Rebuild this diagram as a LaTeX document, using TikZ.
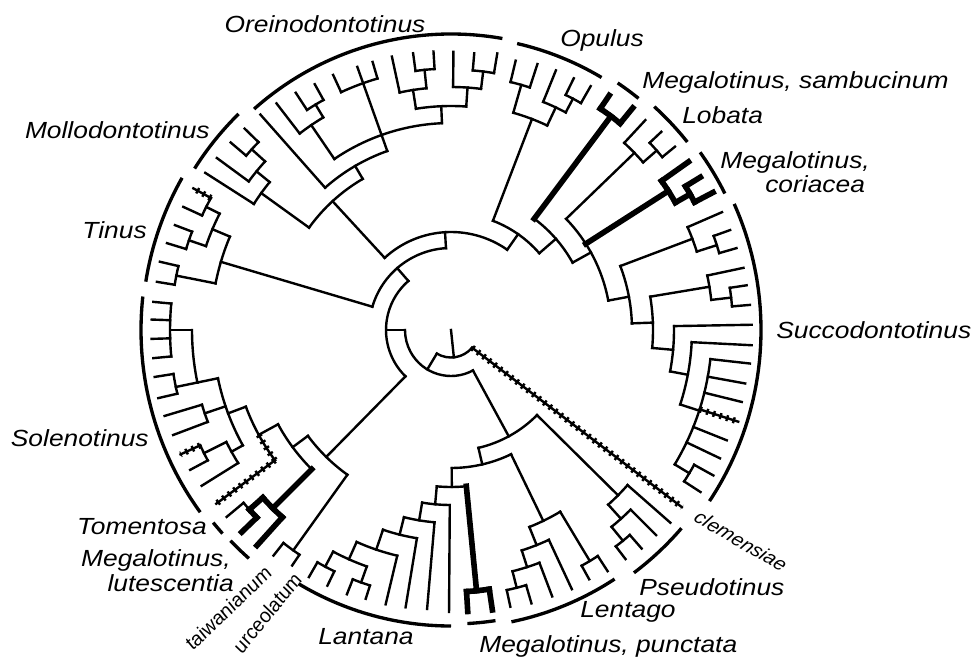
\documentclass[tikz,border=0pt]{standalone}
\usepackage{fontspec}
\setmainfont{Liberation Sans}
\newcommand\AR[4][]{\draw[#1] (-#3:#2) arc[start angle=-#3,end angle=-#4,radius=#2];}
\newcommand\RD[4][]{\draw[#1] (-#2:#3) -- (-#2:#4);}
\tikzset{
 thk/.style={line width=4.2pt},
 grp/.style={line width=2.5pt, line cap=butt},
 hatched/.style={postaction={draw, line width=4.6pt, dash pattern=on 1.8pt off 3.4pt, line cap=butt}},
 lab/.style={font=\fontsize{17.5}{20}\selectfont\itshape, inner sep=0pt, xscale=1.13},
 slab/.style={font=\fontsize{14}{16}\selectfont\itshape, inner sep=0pt, xscale=1.12},
}
\begin{document}
\begin{tikzpicture}[x=0.75pt,y=-0.75pt]
\useasboundingbox (0,0) rectangle (974,660);
\begin{scope}[shift={(451,330)}, y=0.75pt, line width=1.8pt, line cap=rect]
% root
\RD{84}{0}{27.5}
\AR{27.5}{40}{121}
\draw[hatched] (-40:27.5) -- (-37.5:291);
\RD{121}{27.5}{46}
\AR{46}{61.5}{180}
\RD{180}{46}{65}
\AR{65}{134.5}{229}
% Z clade
\RD{134.5}{65}{178}
\AR{178}{125.6}{143.5}
\RD{125.6}{178}{271}
\AR{271}{124}{128.2}
\RD{124}{271}{284}
\RD{128.2}{271}{287}
\RD{143.5}{178}{197}
\AR{197}{135}{151.4}
% Tomentosa / lutescentia
\RD[thk]{135}{197}{252}
\AR[thk]{252}{132}{138.3}
\RD[thk]{132}{252}{290}
\RD[thk]{138.3}{252}{270}
\AR[thk]{270}{136}{138.3}
\AR{270}{138.3}{140.2}
\RD[thk]{136}{270}{291}
\RD{140.2}{270}{292}
% Solenotinus
\RD{151.4}{197}{219}
\AR{219}{151.4}{159.5}
\AR[hatched]{219}{143.5}{151.4}
\RD[hatched]{143.5}{219}{292}
\RD{159.5}{219}{238}
\AR{238}{151}{168.3}
\RD{168.3}{238}{259}
\AR{259}{168.3}{180}
\RD{180}{259}{281}
\AR{281}{174.6}{185.4}
\RD{185.4}{281}{299}
\RD{182}{281}{299.5}
\RD{178.3}{281}{299.5}
\RD{174.6}{281}{299}
\RD{168.3}{259}{281}
\AR{281}{166.9}{171}
\RD{171}{281}{300}
\RD{166.9}{281}{300.5}
\RD{161.3}{238}{260}
\AR{260}{159.3}{163.3}
\RD{163.3}{260}{299}
\RD{159.3}{260}{297}
\RD{151}{238}{251}
\AR{251}{148}{153.5}
\RD{153.5}{251}{276}
\AR{276}{151.8}{155.3}
\RD[hatched]{155.3}{276}{297.7}
\RD{151.8}{276}{296}
\RD{148}{251}{294}
% B
\RD{229}{65}{82}
\AR{82}{196.5}{266.5}
% Tinus
\RD{196.5}{82}{240}
\AR{240}{191.2}{202.9}
\RD{191.2}{240}{280}
\AR{280}{189.3}{193.2}
\RD{193.2}{280}{299}
\RD{189.3}{280}{298}
\RD{202.9}{240}{259}
\AR{259}{198.9}{206.7}
\RD{198.9}{259}{277}
\AR{277}{197}{200.8}
\RD{200.8}{277}{295.3}
\RD{197}{277}{297}
\RD{206.7}{259}{274}
\AR{274}{204.7}{208.8}
\RD{204.7}{274}{294.7}
\RD[hatched]{208.8}{274}{294}
% D
\RD{266.5}{82}{98}
\AR{98}{227.4}{305}
\RD{227.4}{98}{175}
\AR{175}{215.8}{239.7}
% Mollodontotinus
\RD{215.8}{175}{234}
\AR{234}{212.6}{219.2}
\RD{212.6}{234}{291.7}
\RD{219.2}{234}{251}
\AR{251}{216.3}{222.2}
\RD{216.3}{251}{290.5}
\RD{222.2}{251}{269}
\AR{269}{220.4}{224.3}
\RD{220.4}{269}{289.3}
\RD{224.3}{269}{288.3}
% Oreinodontotinus
\RD{239.7}{175}{190}
\AR{190}{228.5}{250.4}
\RD{228.5}{190}{287.6}
\RD{250.4}{190}{207}
\AR{207}{235.7}{267.5}
\RD{235.7}{207}{248}
\AR{248}{232.4}{239}
\RD{232.4}{248}{286}
\RD{239}{248}{263}
\AR{263}{236.8}{241}
\RD{236.8}{263}{283.5}
\RD{241}{263}{281}
\RD{250.4}{207}{279.3}
\AR{262}{245.2}{253.7}
\RD{245.2}{262}{281}
\RD{253.7}{262}{279.3}
\RD{267.5}{207}{224}
\AR{224}{261}{273.9}
\RD{261}{224}{243}
\AR{243}{257.8}{264.2}
\RD{257.8}{243}{279.7}
\RD{264.2}{243}{261.5}
\AR{261.5}{262.2}{266.4}
\RD{262.2}{261.5}{279.3}
\RD{266.4}{261.5}{279}
\RD{273.9}{224}{243}
\AR{243}{270.5}{277.1}
\RD{270.5}{243}{278.3}
\RD{277.1}{243}{260.5}
\AR{260.5}{274.8}{279.5}
\RD{274.8}{260.5}{277.6}
\RD{279.5}{260.5}{280.4}
% E, Opulus
\RD{305}{98}{117}
\AR{117}{291}{319}
\RD{291}{117}{226}
\AR{226}{286}{295.2}
\RD{286}{226}{255}
\AR{255}{283.5}{288}
\RD{283.5}{255}{277}
\RD{288}{255}{279.6}
\RD{295.2}{226}{246}
\AR{246}{292}{297.8}
\RD{292}{246}{280}
\RD{297.8}{246}{261.5}
\AR{261.5}{296}{299.8}
\RD{296}{261.5}{280}
\RD{299.8}{261.5}{281}
% F, sambucinum
\RD{319}{117}{139}
\AR{139}{306.8}{331}
\RD[thk]{306.8}{139}{267}
\AR[thk]{267}{304}{309.3}
\RD[thk]{304}{267}{283}
\RD[thk]{309.3}{267}{287}
% H, Lobata, coriacea
\RD{331}{139}{160}
\AR{160}{316}{349.4}
\RD{316}{160}{255}
\AR{255}{312.8}{318.9}
\RD{312.8}{255}{286}
\RD{318.9}{255}{273}
\AR{273}{316.7}{320.7}
\RD{316.7}{273}{289}
\RD{320.7}{273}{289.4}
\RD[thk]{327.4}{160}{258}
\AR[thk]{258}{324.7}{330.4}
\RD[thk]{324.7}{258}{291}
\RD[thk]{330.4}{258}{275}
\AR[thk]{275}{328.5}{332.3}
\RD[thk]{328.5}{275}{292.5}
\RD[thk]{332.3}{275}{296}
% Succodontotinus
\RD{349.4}{160}{181}
\AR{181}{339.3}{357.9}
\RD{339.3}{181}{258}
\AR{258}{336.5}{342.3}
\RD{336.5}{258}{295.5}
\RD{342.3}{258}{279}
\AR{279}{340.3}{344}
\RD{340.3}{279}{296.5}
\RD{344}{279}{297}
\RD{357.9}{181}{202}
\AR{202}{350.5}{365.1}
\RD{350.5}{202}{262}
\AR{262}{348}{353.4}
\RD{348}{262}{299}
\RD{353.4}{262}{282}
\AR{282}{351.4}{355.2}
\RD{351.4}{282}{299}
\RD{355.2}{282}{300}
\RD{5.1}{202}{223}
\AR{223}{359}{370.7}
\RD{359}{223}{300.7}
\RD{10.7}{223}{241}
\AR{241}{2.9}{18}
\RD{2.9}{241}{301}
\RD{18}{241}{261}
\AR{261}{6.4}{31}
\RD{6.4}{261}{300.8}
\RD{10.3}{261}{299}
\RD{13.9}{261}{299.5}
\RD[hatched]{17.7}{261}{301.5}
\RD{21.8}{261}{297}
\RD{25.5}{261}{298}
\RD{31}{261}{278}
\AR{278}{29}{33}
\RD{29}{278}{300}
\RD{33}{278}{297.5}
% Lentago / Pseudotinus / Lantana
\RD{61.5}{46}{121}
\AR{121}{44.7}{76.9}
\RD{44.7}{121}{235}
\AR{235}{41.3}{48}
\RD{41.3}{235}{292}
\RD{48}{235}{254}
\AR{254}{45}{50.8}
\RD{45}{254}{290}
\RD{50.8}{254}{272}
\AR{272}{48.9}{52.7}
\RD{48.9}{272}{290}
\RD{52.7}{272}{288}
\RD{76.9}{121}{138}
\AR{138}{64.2}{89.7}
\RD{64.2}{138}{212}
\AR{212}{59}{68.3}
\RD{59}{212}{269.5}
\AR{269.5}{57}{61}
\RD{57}{269.5}{287.5}
\RD{61}{269.5}{285}
\RD{68.3}{212}{231.5}
\AR{231.5}{65}{72.2}
\RD{65}{231.5}{286}
\RD{72.2}{231.5}{249}
\AR{249}{69.2}{75.7}
\RD{69.2}{249}{285}
\RD{75.7}{249}{266}
\AR{266}{73.6}{77.9}
\RD{73.6}{266}{285}
\RD{77.9}{266}{283}
\RD{89.7}{138}{157}
\AR{157}{84.4}{95.2}
\RD[thk]{84.4}{157}{262}
\AR[thk]{262}{81.6}{86.6}
\RD[thk]{86.6}{262}{282}
\RD[thk]{81.6}{262}{283}
\RD{95.2}{157}{175}
\AR{175}{90.4}{99.5}
\RD{90.4}{175}{282}
\RD{99.5}{175}{193}
\AR{193}{94.9}{104.1}
\RD{94.9}{193}{280}
\RD{104.1}{193}{211}
\AR{211}{99.3}{108.8}
\RD{99.3}{211}{281}
\RD{108.8}{211}{232}
\AR{232}{103.4}{114}
\RD{103.4}{232}{282}
\RD{114}{232}{251}
\AR{251}{109.6}{118}
\RD{118}{251}{268}
\AR{268}{115.8}{119.9}
\RD{119.9}{268}{285}
\RD{115.8}{268}{284}
\RD{109.6}{251}{268}
\AR{268}{107.6}{111.5}
\RD{111.5}{268}{284}
\RD{107.6}{268}{282}
% group bars
\AR[grp]{303}{212.2}{225.5}
\AR[grp]{296}{228.3}{280}
\AR[grp]{309}{189}{209.5}
\AR[grp]{294}{283}{300.8}
\AR[grp]{298}{304}{309}
\AR[grp]{302}{312.3}{321.5}
\AR[grp]{306}{324.5}{333.5}
\AR[grp]{310}{336}{393.5}
\AR[grp]{304}{40.7}{53}
\AR[grp]{298}{56.7}{78.3}
\AR[grp]{294}{81.3}{86.8}
\AR[grp]{296}{90}{121}
\AR[grp]{305}{131.5}{136.3}
\AR[grp]{306}{138.3}{141}
\AR[grp]{310}{144}{186.2}
\end{scope}
\node[lab] (l1) at (325,24) {Oreinodontotinus};
\node[lab, anchor=east] (l2) at (210,130) {Mollodontotinus};
\node[lab, anchor=east] (l3) at (147,230) {Tinus};
\node[lab, anchor=east] (l4) at (149,438) {Solenotinus};
\node[lab, anchor=east] (l5) at (207,527) {Tomentosa};
\node[lab, anchor=east] (l6) at (231,560) {Megalotinus,};
\node[lab, anchor=east] (l7) at (234,583) {lutescentia};
\node[lab, anchor=west] (l8) at (318,637) {Lantana};
\node[lab, anchor=west] (l9) at (479,646) {Megalotinus, punctata};
\node[lab, anchor=west] (l10) at (580,612) {Lentago};
\node[lab, anchor=west] (l11) at (639,587) {Pseudotinus};
\node[lab, anchor=west] (l12) at (776,330) {Succodontotinus};
\node[lab, anchor=west] (l13) at (720,162) {Megalotinus,};
\node[lab, anchor=west] (l14) at (765,184) {coriacea};
\node[lab, anchor=west] (l15) at (682,115) {Lobata};
\node[lab, anchor=west] (l16) at (642,82) {Megalotinus, sambucinum};
\node[lab, anchor=west] (l17) at (560,40) {Opulus};
\node[slab, rotate=-33] (l18) at (741,541) {clemensiae};
\node[slab, rotate=47] (l19) at (228,608) {taiwanianum};
\node[slab, rotate=54] (l20) at (267,613) {urceolatum};
\end{tikzpicture}
\end{document}
